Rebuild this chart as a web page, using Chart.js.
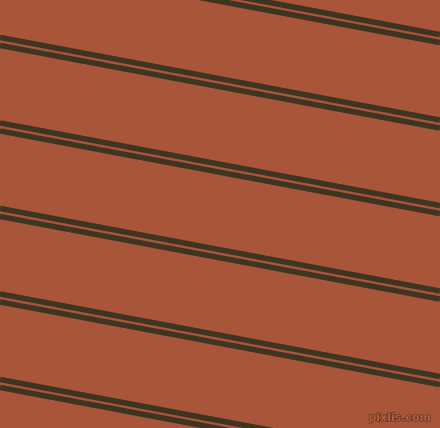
<!DOCTYPE html>
<html>
<head>
<meta charset="utf-8">
<script src="https://cdn.jsdelivr.net/npm/chart.js@4"></script>
<style>
  html, body { margin: 0; padding: 0; background: #A8553A; overflow: hidden; }
  #wrap { position: relative; width: 440px; height: 428px; }
  canvas { display: block; }
</style>
</head>
<body>
<div id="wrap"><canvas id="c" width="440" height="428"></canvas></div>
<script>
// x positions of the stripe ends
const xEnds = [0, 440];
// y of each stripe centre at the left edge (x = 0), upper and lower stripe of each pair
const upperLeftY = [-48, 37.5, 123, 208.5, 294, 379.5];
const lowerLeftY = [-40, 45.5, 131, 216.5, 302, 387.5];
// y of each stripe centre at the right edge (x = 440)
const upperRightY = [34.5, 120, 205.5, 291, 376.5, 462];
const lowerRightY = [42.5, 128, 213.5, 299, 384.5, 470];
const watermark = ['pixlis.com'];

const bgColor = '#A8553A';
const stripeColor = '#3D3421';

function stripe(l, r) {
  return {
    data: [{x: xEnds[0], y: l}, {x: xEnds[1], y: r}],
    borderColor: stripeColor,
    borderWidth: 5.6,
    pointRadius: 0,
    tension: 0,
    borderCapStyle: 'butt',
    fill: false
  };
}
const datasets = [];
for (let i = 0; i < upperLeftY.length; i++) {
  datasets.push(stripe(upperLeftY[i], upperRightY[i]));
  datasets.push(stripe(lowerLeftY[i], lowerRightY[i]));
}

const bgPlugin = {
  id: 'bg',
  beforeDraw(chart) {
    const ctx = chart.ctx;
    ctx.save();
    ctx.fillStyle = bgColor;
    ctx.fillRect(0, 0, chart.width, chart.height);
    ctx.restore();
  },
  afterDraw(chart) {
    const ctx = chart.ctx;
    ctx.save();
    ctx.font = 'bold 11px "DejaVu Sans"';
    ctx.textAlign = 'right';
    ctx.textBaseline = 'alphabetic';
    ctx.lineWidth = 1.2;
    ctx.strokeStyle = 'rgba(70,40,25,0.85)';
    ctx.fillStyle = '#B0603F';
    ctx.strokeText(watermark[0], 431, 421);
    ctx.fillText(watermark[0], 431, 421);
    ctx.restore();
  }
};

new Chart(document.getElementById('c'), {
  type: 'line',
  data: { datasets },
  options: {
    responsive: false,
    animation: false,
    devicePixelRatio: 1,
    layout: { padding: 0 },
    plugins: { legend: { display: false }, tooltip: { enabled: false } },
    scales: {
      x: { type: 'linear', min: 0, max: 440, display: false },
      y: { type: 'linear', min: 0, max: 428, reverse: true, display: false }
    }
  },
  plugins: [bgPlugin]
});
</script>
</body>
</html>
